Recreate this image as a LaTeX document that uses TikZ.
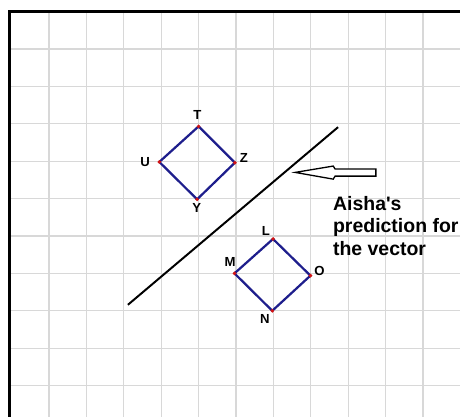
\documentclass[tikz,border=0pt]{standalone}
\usepackage{fontspec}
\setmainfont{Liberation Sans}
\usetikzlibrary{positioning}
\definecolor{gridgray}{HTML}{D8D8D8}
\definecolor{shapeblue}{HTML}{1E1E8C}
\definecolor{dotred}{HTML}{D21414}

\begin{document}
\begin{tikzpicture}[x=1cm, y=1cm,
    ptlabel/.style={font=\fontsize{10}{12}\selectfont\bfseries, inner sep=0pt},
    sqedge/.style={shapeblue, line width=1.7pt, line join=round},
    vdot/.style={fill=dotred, draw=none}]
    \useasboundingbox (-1.31,-9.84) rectangle (10.99,1.31);

    % Grid
    \foreach \x in {0,...,10}
        \draw[gridgray, line width=0.8pt] (\x,-9.84) -- (\x,1.0);
    \foreach \y in {0,...,-9}
        \draw[gridgray, line width=0.8pt] (-1.06,\y) -- (10.99,\y);

    % Frame
    \draw[black, line width=2.5pt] (-1.06,-9.84) -- (-1.06,1.0) -- (10.99,1.0);

    % Square TUYZ
    \coordinate (T) at (4,-2.07);
    \coordinate (U) at (2.95,-3.02);
    \coordinate (Z) at (4.97,-3.04);
    \coordinate (Y) at (3.96,-4.02);
    \draw[sqedge] (T) -- (Z) -- (Y) -- (U) -- cycle;
    \foreach \p in {T,U,Z,Y}
        \fill[vdot] (\p) circle (1.5pt);
    \node[ptlabel] (lT) at (3.97,-1.76) {T};
    \node[ptlabel] (lU) at (2.57,-3.01) {U};
    \node[ptlabel] (lZ) at (5.21,-2.92) {Z};
    \node[ptlabel] (lY) at (3.95,-4.26) {Y};

    % Square LMON
    \coordinate (L) at (5.99,-5.08);
    \coordinate (M) at (4.96,-6.0);
    \coordinate (O) at (6.99,-6.06);
    \coordinate (N) at (5.97,-7.0);
    \draw[sqedge] (L) -- (O) -- (N) -- (M) -- cycle;
    \foreach \p in {L,M,O,N}
        \fill[vdot] (\p) circle (1.5pt);
    \node[ptlabel] (lL) at (5.80,-4.87) {L};
    \node[ptlabel] (lM) at (4.84,-5.69) {M};
    \node[ptlabel] (lO) at (7.23,-5.93) {O};
    \node[ptlabel] (lN) at (5.77,-7.23) {N};

    % Mirror line
    \coordinate (m1) at (2.11,-6.84);
    \coordinate (m2) at (7.73,-2.09);
    \draw[black, line width=1.5pt] (m1) -- (m2);

    % Hollow arrow
    \draw[black, line width=1pt, fill=white, line join=miter]
        (6.58,-3.30) -- (7.60,-3.13) -- (7.65,-3.21) -- (8.74,-3.21)
        -- (8.74,-3.40) -- (7.65,-3.40) -- (7.60,-3.48) -- cycle;

    % Prediction text
    \node[anchor=base west, align=left, inner sep=0pt,
          font=\fontsize{14.8}{17}\selectfont\bfseries] (pred) at (7.59,-5.51)
        {Aisha\textquotesingle s\\prediction for\\the vector};
\end{tikzpicture}
\end{document}
